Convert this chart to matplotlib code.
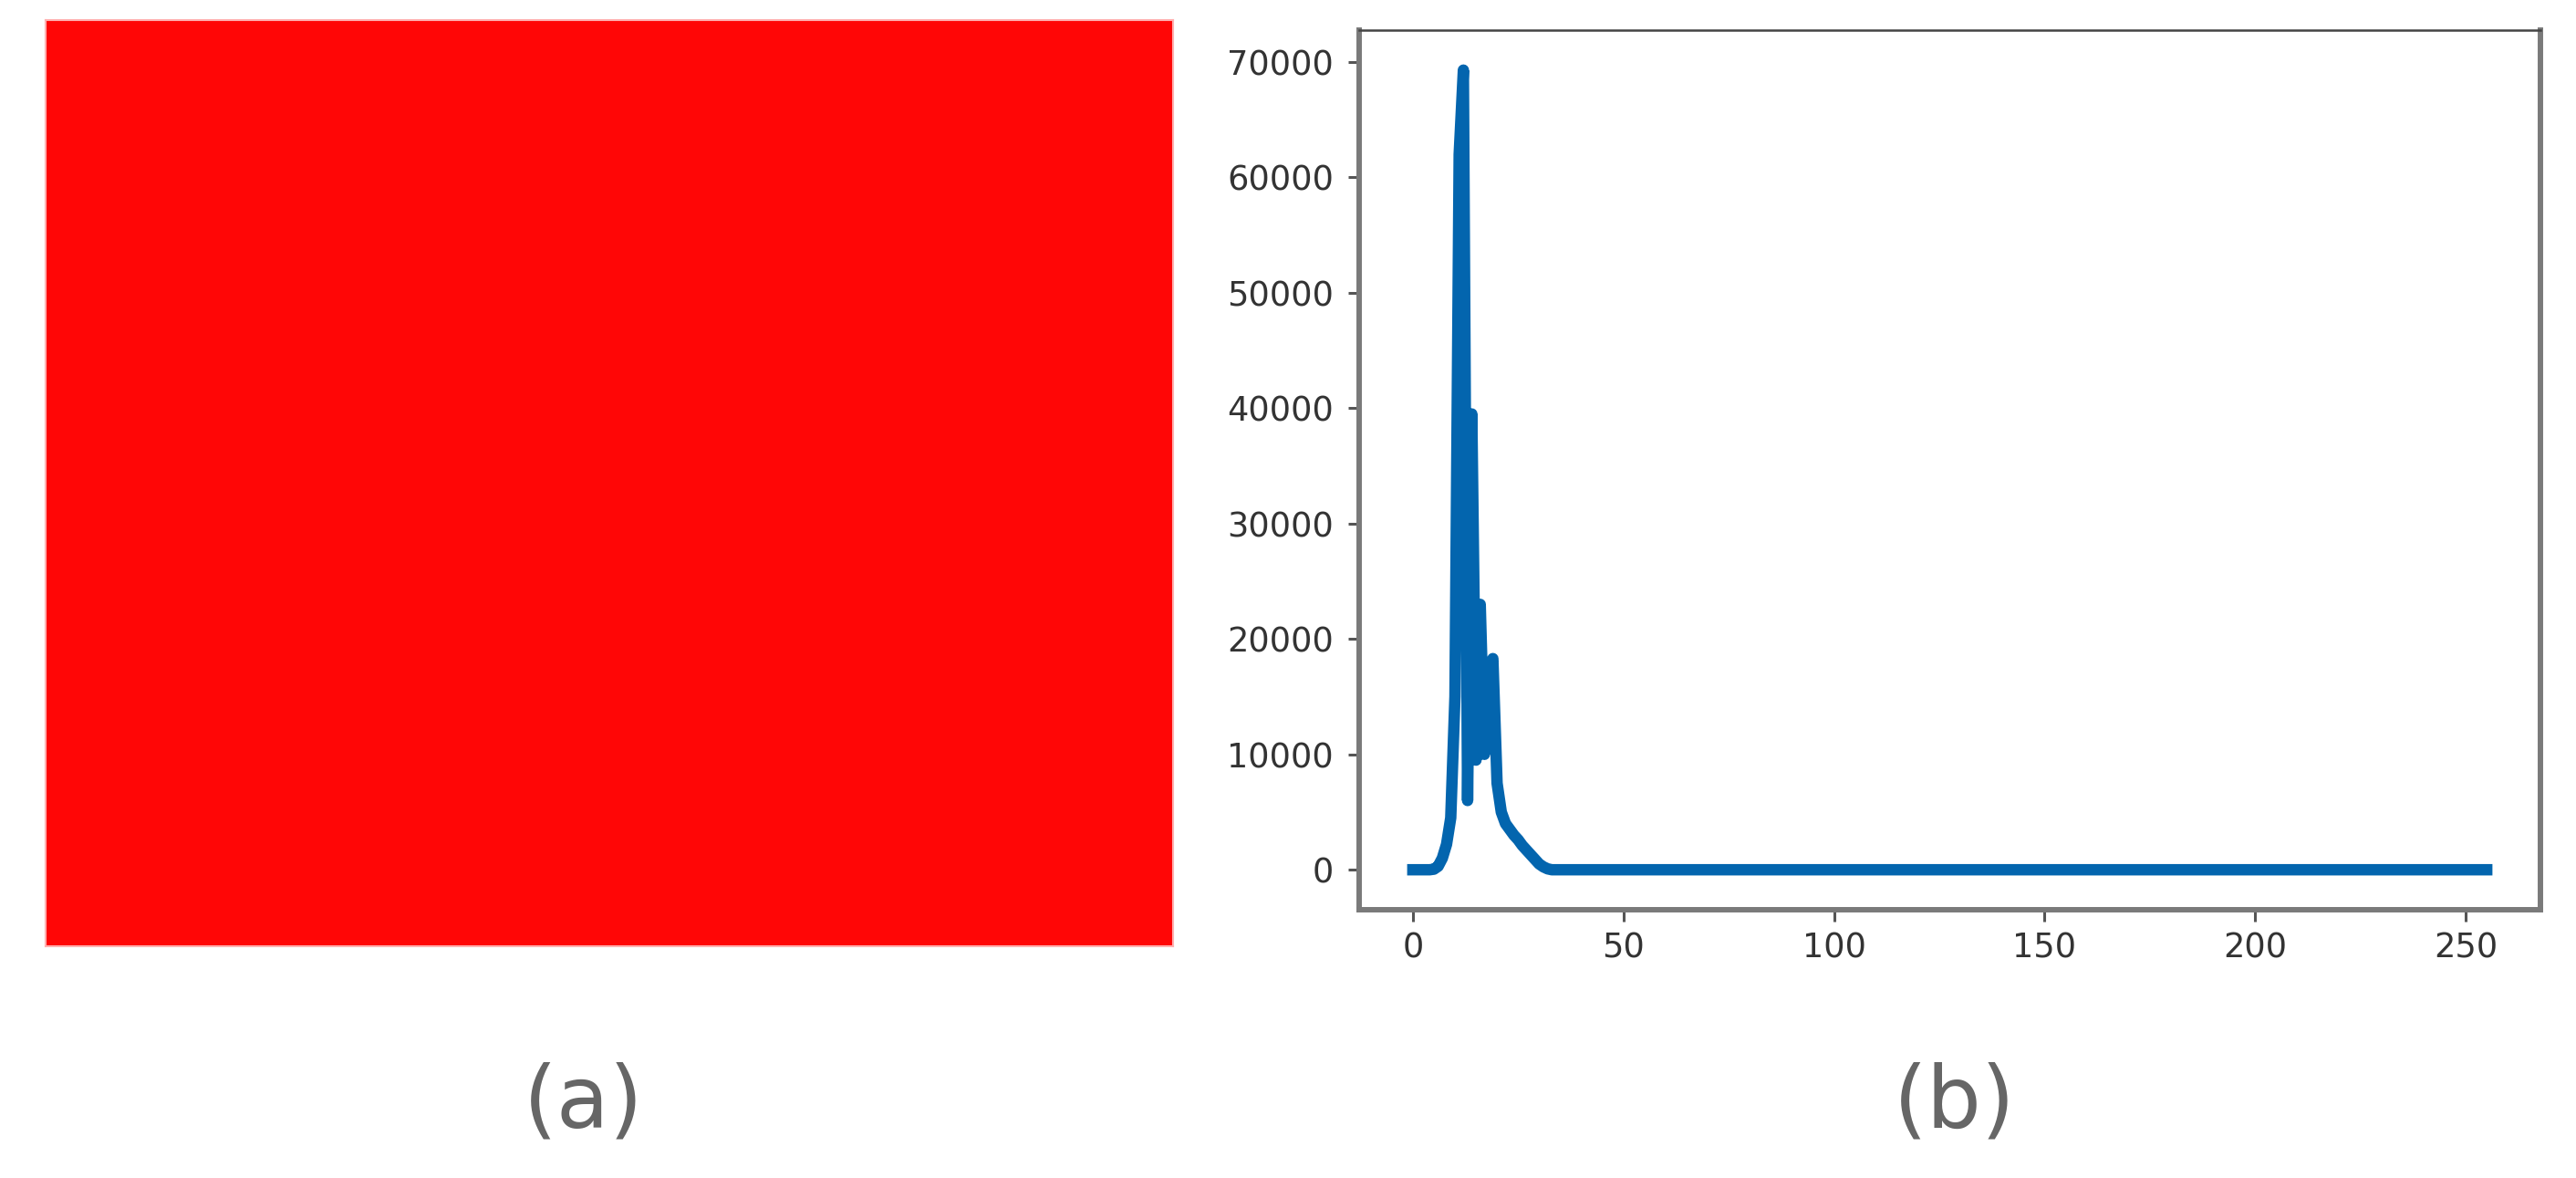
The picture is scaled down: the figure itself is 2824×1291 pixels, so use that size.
import matplotlib
matplotlib.use('Agg')
import matplotlib.pyplot as plt
import numpy as np

# panel (a): the picture is a flat red frame
red_rgb = [255, 6, 6]

# panel (b): grey level histogram, bins 0..255
bins = list(range(256))
head_counts = [0, 0, 0, 0, 0, 50, 300, 1000, 2200, 4500,
               15000, 62000, 69300, 6000, 39500, 9500, 23000, 10000, 17500, 18300,
               7500, 5000, 4000, 3500, 3000, 2600, 2100, 1700, 1300, 900,
               500, 250, 80]
counts = head_counts + [0] * (256 - len(head_counts))

panel_labels = ['(a)', '(b)']

W, H = 2824, 1291
fig = plt.figure(figsize=(W / 100, H / 100), dpi=100)

# left: image
ax_img = fig.add_axes([50 / W, (H - 1037) / H, 1236 / W, 1015 / H])
img = np.array([[red_rgb]], dtype=np.uint8)
ax_img.imshow(img, aspect='auto', interpolation='nearest')
ax_img.set_xticks([])
ax_img.set_yticks([])
for s in ax_img.spines.values():
    s.set_color('#ffb0b0')
    s.set_linewidth(1.5)

# right: histogram line
ax = fig.add_axes([1490 / W, (H - 997) / H, 1295 / W, 964 / H])
ax.plot(bins, counts, color='#0365ae', lw=9, solid_joinstyle='round')
ax.set_xticks([0, 50, 100, 150, 200, 250])
ax.set_yticks(range(0, 70001, 10000))
ax.tick_params(labelsize=26.5, labelcolor='#333333', color='#555555',
               length=9, width=2.2)
ax.tick_params(axis='y', pad=11)
ax.tick_params(axis='x', pad=8)
for side in ['left', 'bottom', 'right']:
    ax.spines[side].set_color('#7a7a7a')
    ax.spines[side].set_linewidth(4.3)
ax.spines['top'].set_color('#444444')
ax.spines['top'].set_linewidth(1.8)

# panel captions
fig.text(640 / W, 1 - 1210 / H, panel_labels[0], fontsize=68, color='#666666',
         ha='center', va='center')
fig.text(2143 / W, 1 - 1210 / H, panel_labels[1], fontsize=68, color='#666666',
         ha='center', va='center')

fig.savefig('out.png', dpi=100)
